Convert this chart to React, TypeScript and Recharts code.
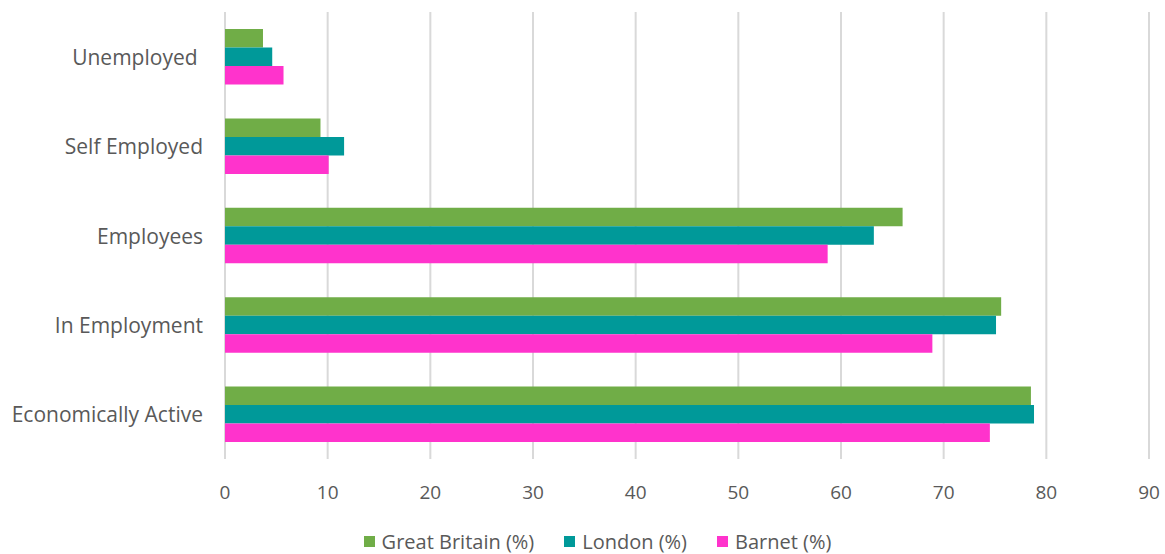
import React from 'react';
import { BarChart, Bar, XAxis, YAxis, CartesianGrid, Legend } from 'recharts';

const categories = ['Unemployed ', 'Self Employed', 'Employees', 'In Employment', 'Economically Active'];
const greatBritain = [3.7, 9.3, 66.0, 75.6, 78.5];
const london = [4.6, 11.6, 63.2, 75.1, 78.8];
const barnet = [5.7, 10.1, 58.7, 68.9, 74.5];
const xTicks = [0, 10, 20, 30, 40, 50, 60, 70, 80, 90];

const series = [
  { key: 'gb', name: 'Great Britain (%)', color: '#70ad47' },
  { key: 'london', name: 'London (%)', color: '#009999' },
  { key: 'barnet', name: 'Barnet (%)', color: '#ff33cc' },
];

const data = categories.map((name, i) => ({
  name,
  gb: greatBritain[i],
  london: london[i],
  barnet: barnet[i],
}));

const FONT = '"Open Sans", sans-serif';
const TEXT = '#595959';

const CategoryTick = ({ x, y, payload }: any) => (
  <text
    x={x}
    y={y}
    textAnchor="end"
    dominantBaseline="central"
    fill={TEXT}
    fontSize={21}
    fontFamily={FONT}
    style={{ whiteSpace: 'pre' }}
  >
    {payload.value}
  </text>
);

const LegendContent = () => (
  <div style={{ display: 'flex', justifyContent: 'center', alignItems: 'center', fontFamily: FONT, fontSize: 20, color: TEXT }}>
    {series.map((s, i) => (
      <div key={s.key} style={{ display: 'flex', alignItems: 'center', marginLeft: i === 0 ? 0 : 30 }}>
        <span style={{ display: 'inline-block', width: 11, height: 11, background: s.color, marginRight: 7 }} />
        <span>{s.name}</span>
      </div>
    ))}
  </div>
);

const App: React.FC = () => {
  return (
    <div style={{ width: 1165, height: 554, background: '#fff' }}>
      <style>{`body{margin:0}`}</style>
      <BarChart
        width={1165}
        height={554}
        data={data}
        layout="vertical"
        margin={{ top: 12, right: 16, left: 0, bottom: 0 }}
        barGap={0}
      >
        <CartesianGrid vertical horizontal={false} stroke="#d9d9d9" strokeWidth={2} />
        <XAxis
          type="number"
          domain={[0, 90]}
          ticks={xTicks}
          axisLine={false}
          tickLine={false}
          tickMargin={21}
          height={95}
          tick={{ fill: TEXT, fontSize: 19, fontFamily: FONT }}
        />
        <YAxis
          type="category"
          dataKey="name"
          width={225}
          axisLine={false}
          tickLine={false}
          tickMargin={16}
          tick={<CategoryTick />}
        />
        <Legend
          verticalAlign="middle"
          align="center"
          layout="horizontal"
          content={<LegendContent />}
          wrapperStyle={{ top: 528, left: 30, width: 1135 }}
        />
        {series.map((s) => (
          <Bar key={s.key} dataKey={s.key} name={s.name} fill={s.color} barSize={18.5} isAnimationActive={false} />
        ))}
      </BarChart>
    </div>
  );
};

export default App;
